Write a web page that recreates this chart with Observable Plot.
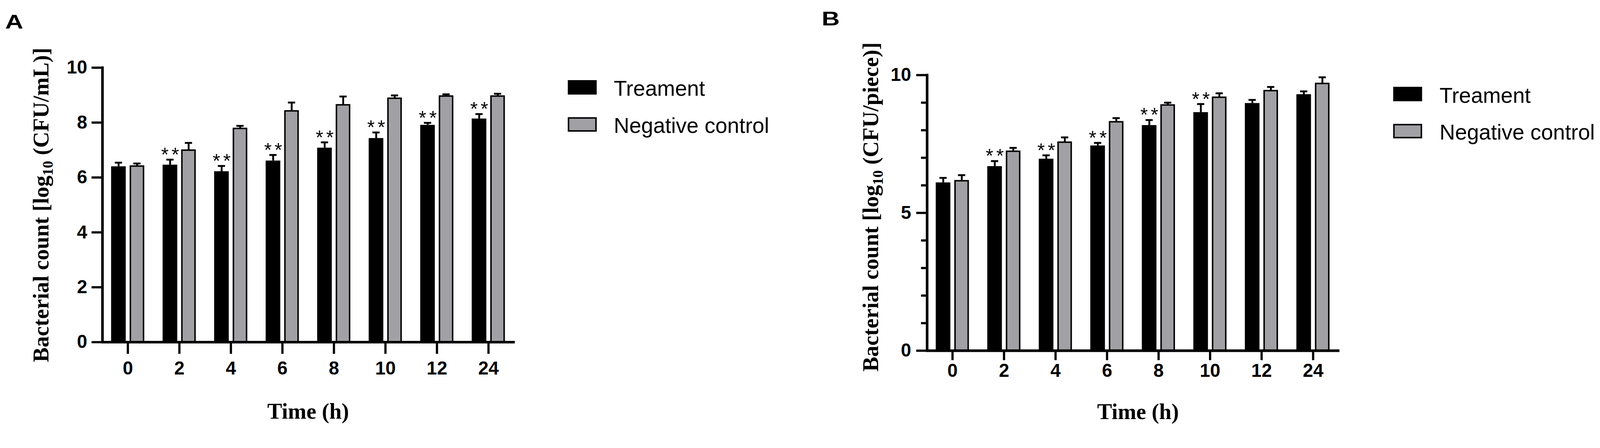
<!DOCTYPE html>
<html><head><meta charset="utf-8">
<script src="https://cdn.jsdelivr.net/npm/d3@7"></script>
<script src="https://cdn.jsdelivr.net/npm/@observablehq/plot@0.6"></script>
<style>
html,body{margin:0;padding:0;background:#fff;overflow:hidden;}
#fig{position:relative;width:4317px;height:1146px;overflow:hidden;background:#fff;transform-origin:0 0;}
.panel{position:absolute;top:0;}
.plabel{position:absolute;font-family:"Liberation Sans",Arial,sans-serif;font-weight:bold;font-size:52px;line-height:1;transform-origin:left top;transform:scale(1.3,1);}
.sw{position:absolute;width:78px;height:39px;box-sizing:border-box;}
.lt{position:absolute;font-family:"Liberation Sans",Arial,sans-serif;font-size:58px;line-height:1;white-space:nowrap;color:#000;}
</style></head><body><div id="fig"></div>
<script>
// ---- data ----
const times = ["0", "2", "4", "6", "8", "10", "12", "24"];
const groups = ["Treament", "Negative control"];

const aTreatMean = [6.40, 6.46, 6.22, 6.61, 7.08, 7.43, 7.91, 8.14];
const aTreatSd   = [0.14, 0.19, 0.20, 0.21, 0.20, 0.21, 0.08, 0.17];
const aCtrlMean  = [6.41, 6.99, 7.78, 8.42, 8.64, 8.88, 8.96, 8.96];
const aCtrlSd    = [0.10, 0.27, 0.10, 0.31, 0.31, 0.11, 0.07, 0.09];
const aSig       = ["", "**", "**", "**", "**", "**", "**", "**"];

const bTreatMean = [6.10, 6.69, 6.96, 7.44, 8.18, 8.65, 8.98, 9.30];
const bTreatSd   = [0.17, 0.19, 0.13, 0.10, 0.19, 0.30, 0.12, 0.11];
const bCtrlMean  = [6.16, 7.23, 7.56, 8.30, 8.91, 9.19, 9.43, 9.69];
const bCtrlSd    = [0.21, 0.13, 0.18, 0.14, 0.09, 0.15, 0.14, 0.23];
const bSig       = ["", "**", "**", "**", "**", "**", "", ""];

const yTicksA = [0, 2, 4, 6, 8, 10];
const yTicksB = [0, 5, 10];
const yMinorB = [1, 2, 3, 4, 6, 7, 8, 9];

const yLabelA = "Bacterial count [log10 (CFU/mL)]";
const yLabelB = "Bacterial count [log10 (CFU/piece)]";
const xLabel = "Time (h)";

const GRAY = "#a1a1a5";
const SANS = "Liberation Sans, Arial, sans-serif";
const SERIF = "Liberation Serif, Times New Roman, serif";

function makePanel(c) {
  const rows = [];
  times.forEach((t, i) => {
    rows.push({time: t, group: groups[0], mean: c.tm[i], sd: c.ts[i], sig: c.sig[i]});
    rows.push({time: t, group: groups[1], mean: c.cm[i], sd: c.cs[i], sig: ""});
  });
  const T = rows.filter(d => d.group === groups[0]);
  const N = rows.filter(d => d.group === groups[1]);
  const half = (c.width - c.mL - c.mR) / times.length / 2;
  const top = d => d.mean + d.sd;

  const yAxisLine = (index, scales, values, dims) => {
    const l = document.createElementNS("http://www.w3.org/2000/svg", "line");
    const x = dims.marginLeft + 3.5;
    l.setAttribute("x1", x); l.setAttribute("x2", x);
    l.setAttribute("y1", scales.y(10) - 3); l.setAttribute("y2", scales.y(0) + 3);
    l.setAttribute("stroke", "#000"); l.setAttribute("stroke-width", 7);
    return l;
  };

  const marks = [
    Plot.ruleX(T, {x: "time", y1: "mean", y2: top, dx: -25, strokeWidth: 5}),
    Plot.ruleX(N, {x: "time", y1: "mean", y2: top, dx: 25, strokeWidth: 5}),
    Plot.tickY(T, {x: "time", y: top, strokeWidth: 5, insetLeft: half - 35, insetRight: half + 15}),
    Plot.tickY(N, {x: "time", y: top, strokeWidth: 5, insetLeft: half + 15, insetRight: half - 35}),
    Plot.barY(T, {x: "time", y: "mean", fill: "#000", insetLeft: half - 45, insetRight: half + 5}),
    Plot.barY(N, {x: "time", y: "mean", fill: GRAY, stroke: "#000", strokeWidth: 4, insetLeft: half + 7, insetRight: half - 43}),
    Plot.text(T, {x: "time", y: top, text: "sig", dx: -21, dy: -12, fontSize: 52, fontFamily: SANS, lineAnchor: "middle"}),
    Plot.ruleY([0], {strokeWidth: 7}),
    yAxisLine,
    Plot.axisY({ticks: c.yTicks, tickSize: 26, tickPadding: c.yPad, strokeWidth: 6, fontSize: 50, fontWeight: "bold", fontFamily: SANS, label: null}),
    Plot.axisX({tickSize: c.xTick, tickPadding: c.xPad, strokeWidth: 6, fontSize: 50, fontWeight: "bold", fontFamily: SANS, label: null}),
    Plot.text([c.yLabel], {text: d => d, frameAnchor: "left", textAnchor: "middle", rotate: -90, dx: c.labDx, dy: c.labDy, lineAnchor: "bottom", fontFamily: SERIF, fontWeight: "bold", fontSize: 60}),
    Plot.text([xLabel], {text: d => d, frameAnchor: "bottom", textAnchor: "middle", dx: c.titleDx, dy: c.titleDy, lineAnchor: "bottom", fontFamily: SERIF, fontWeight: "bold", fontSize: 60})
  ];
  if (c.yMinor) marks.push(Plot.axisY({ticks: c.yMinor, tickSize: 13, strokeWidth: 6, tickFormat: () => "", label: null}));

  const svg = Plot.plot({
    width: c.width, height: 1146,
    marginLeft: c.mL, marginRight: c.mR, marginTop: c.mT, marginBottom: c.mB,
    x: {domain: times, padding: 0},
    y: {domain: [0, 10]},
    style: {background: "#fff", overflow: "visible", fontFamily: SANS, color: "#000"},
    marks
  });

  d3.select(svg).selectAll("text").each(function () {
    const t = this.textContent;
    const pre = "Bacterial count [log";
    if (t.startsWith(pre + "10")) {
      const rest = t.slice((pre + "10").length);
      this.textContent = "";
      const s = d3.select(this);
      s.append("tspan").text(pre);
      s.append("tspan").attr("font-size", 40).attr("dy", 12).text("10");
      s.append("tspan").attr("dy", -12).text(rest);
    } else if (t === "**") {
      this.setAttribute("letter-spacing", "8px");
    }
  });
  return svg;
}

const fig = document.getElementById("fig");

function place(svg, left, width) {
  const d = document.createElement("div");
  d.className = "panel";
  d.style.left = left + "px";
  d.style.width = width + "px";
  d.appendChild(svg);
  fig.appendChild(d);
}

place(makePanel({tm: aTreatMean, ts: aTreatSd, cm: aCtrlMean, cs: aCtrlSd, sig: aSig,
  yTicks: yTicksA, yMinor: null, yLabel: yLabelA, yPad: 12,
  width: 1420, mL: 273, mR: 31, mT: 182, mB: 224, xTick: 32, xPad: 20,
  labDx: -143, labDy: 0, titleDx: 0, titleDy: 206}), 0, 1420);

place(makePanel({tm: bTreatMean, ts: bTreatSd, cm: bCtrlMean, cs: bCtrlSd, sig: bSig,
  yTicks: yTicksB, yMinor: yMinorB, yLabel: yLabelB, yPad: 14,
  width: 1450, mL: 298, mR: 36, mT: 202, mB: 201, xTick: 26, xPad: 9,
  labDx: -129, labDy: -16, titleDx: 14, titleDy: 184}), 2200, 1450);

// panel letters
function addLabel(text, left, baseline) {
  const d = document.createElement("div");
  d.className = "plabel";
  d.textContent = text;
  d.style.left = left + "px";
  d.style.top = (baseline - 44) + "px";
  fig.appendChild(d);
}
addLabel("A", 14, 77);
addLabel("B", 2217, 69);

// legends
function addLegend(x, textX, rows) {
  rows.forEach((r, i) => {
    const sw = document.createElement("div");
    sw.className = "sw";
    sw.style.left = x + "px";
    sw.style.top = r.top + "px";
    if (i === 0) { sw.style.background = "#000"; }
    else { sw.style.background = GRAY; sw.style.border = "4px solid #000"; }
    fig.appendChild(sw);
    const t = document.createElement("div");
    t.className = "lt";
    t.textContent = groups[i];
    t.style.left = textX + "px";
    t.style.top = (r.baseline - 49) + "px";
    fig.appendChild(t);
  });
}
addLegend(1532, 1656, [{top: 216, baseline: 258}, {top: 316, baseline: 358}]);
addLegend(3759, 3884, [{top: 234, baseline: 277}, {top: 334, baseline: 376}]);

// fit the 4317px-wide figure into the actual viewport
function fit() {
  const w = window.innerWidth || 4317;
  const s = Math.min(1, w / 4317);
  fig.style.transform = s < 1 ? `scale(${s})` : "none";
}
fit();
window.addEventListener("resize", fit);
</script>
</body></html>
